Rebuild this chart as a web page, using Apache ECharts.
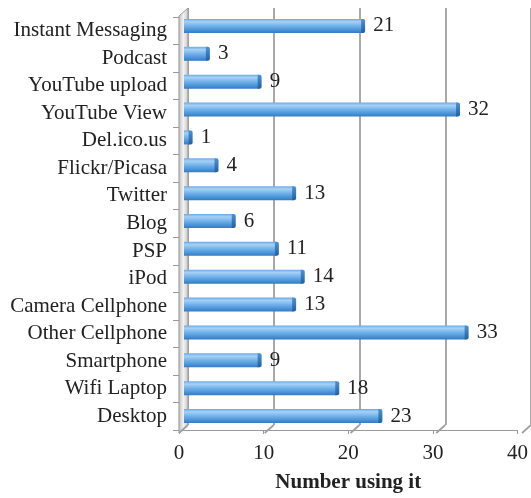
<!DOCTYPE html>
<html>
<head>
<meta charset="utf-8">
<script src="https://cdn.jsdelivr.net/npm/echarts@6/dist/echarts.min.js"></script>
<style>
  html, body { margin: 0; padding: 0; background: #fff; }
  #chart { width: 531px; height: 498px; }
</style>
</head>
<body>
<div id="chart"></div>
<script>
// data
var categories = ['Instant Messaging', 'Podcast', 'YouTube upload', 'YouTube View', 'Del.ico.us',
  'Flickr/Picasa', 'Twitter', 'Blog', 'PSP', 'iPod', 'Camera Cellphone', 'Other Cellphone',
  'Smartphone', 'Wifi Laptop', 'Desktop'];
var values = [21, 3, 9, 32, 1, 4, 13, 6, 11, 14, 13, 33, 9, 18, 23];
var valueTicks = [0, 10, 20, 30, 40];
var axisTitle = 'Number using it';

var serif = '"Liberation Serif", "DejaVu Serif", serif';
var depthX = -9, depthY = 8;   // offset from back wall to front edge

var chart = echarts.init(document.getElementById('chart'));

// 3d-ish bars
function renderBar(params, api) {
  var idx = api.value(0);
  var v = api.value(1);
  var p0 = api.coord([0, idx]);
  var p1 = api.coord([v, idx]);
  var h = 14;
  var y = p0[1] - h / 2;
  var body = {
    type: 'rect',
    shape: { x: p0[0], y: y, width: Math.max(p1[0] - p0[0] - 3, 1), height: h },
    style: {
      fill: new echarts.graphic.LinearGradient(0, 0, 0, 1, [
        { offset: 0, color: '#6aaae6' },
        { offset: 0.2, color: '#a6d1f5' },
        { offset: 0.45, color: '#7ab7ec' },
        { offset: 0.75, color: '#4e98dc' },
        { offset: 1, color: '#3579c2' }
      ])
    }
  };
  var cap = {
    type: 'rect',
    shape: { x: p1[0] - 4, y: y, width: 4, height: h, r: [0, 2, 2, 0] },
    style: {
      fill: new echarts.graphic.LinearGradient(0, 0, 0, 1, [
        { offset: 0, color: '#4d92d6' },
        { offset: 1, color: '#24609f' }
      ])
    }
  };
  var label = {
    type: 'text',
    style: {
      x: p1[0] + 8, y: p0[1], text: String(v),
      font: '21px ' + serif, fill: '#222',
      verticalAlign: 'middle', align: 'left'
    }
  };
  return { type: 'group', children: [body, cap, label] };
}

// left side wall
function renderWall(params, api) {
  var b = api.coord([0, 0]);
  var t = api.coord([0, 1]);
  return {
    type: 'polygon',
    shape: { points: [t, b, [b[0] + depthX, b[1] + depthY], [t[0] + depthX, t[1] + depthY]] },
    style: {
      fill: new echarts.graphic.LinearGradient(0, 0, 1, 0, [
        { offset: 0, color: '#bdbdbd' },
        { offset: 0.5, color: '#f2f2f2' },
        { offset: 1, color: '#c4c4c4' }
      ]),
      stroke: '#9a9a9a', lineWidth: 1
    }
  };
}

// floor diagonals at each tick
function renderFloor(params, api) {
  var p = api.coord([api.value(0), 0]);
  return {
    type: 'line',
    shape: { x1: p[0], y1: p[1], x2: p[0] + depthX, y2: p[1] + depthY },
    style: { stroke: '#a0a0a0', lineWidth: 1.8 }
  };
}

var option = {
  animation: false,
  grid: [
    { left: 188, top: 8, width: 344, height: 417 },   // back wall
    { left: 184, top: 12, width: 345, height: 418 },  // bars
    { left: 179, top: 17, width: 344, height: 416 }   // front axes
  ],
  xAxis: [
    {
      gridIndex: 0, type: 'value', min: 0, max: 40, interval: 10,
      axisLine: { show: false }, axisTick: { show: false }, axisLabel: { show: false },
      splitLine: { show: true, lineStyle: { color: '#a0a0a0', width: 1.8 } }
    },
    {
      gridIndex: 1, type: 'value', min: 0, max: 40, show: false
    },
    {
      gridIndex: 2, type: 'value', min: 0, max: 40, interval: 10,
      axisLine: { show: true, lineStyle: { color: '#9a9a9a', width: 1.2 } },
      axisTick: { show: true, length: 4, lineStyle: { color: '#9a9a9a' } },
      axisLabel: { fontFamily: serif, fontSize: 21, color: '#222', margin: 13 },
      splitLine: { show: false },
      name: axisTitle, nameLocation: 'middle', nameGap: 42,
      nameTextStyle: { fontFamily: serif, fontSize: 21, fontWeight: 'bold', color: '#222' }
    }
  ],
  yAxis: [
    {
      gridIndex: 0, type: 'value', min: 0, max: 1, show: false
    },
    {
      gridIndex: 1, type: 'category', data: categories, inverse: true, show: false
    },
    {
      gridIndex: 2, type: 'category', data: categories, inverse: true,
      axisLine: { show: true, lineStyle: { color: '#9a9a9a', width: 1.2 } },
      axisTick: { show: true, length: 6, interval: 0, lineStyle: { color: '#9a9a9a' } },
      axisLabel: { fontFamily: serif, fontSize: 21, color: '#222', margin: 12, interval: 0 }
    }
  ],
  series: [
    {
      type: 'custom', xAxisIndex: 0, yAxisIndex: 0, z: 1,
      data: [[0]], renderItem: renderWall
    },
    {
      type: 'custom', xAxisIndex: 0, yAxisIndex: 0, z: 1,
      data: valueTicks.map(function (v) { return [v]; }), renderItem: renderFloor
    },
    {
      type: 'custom', xAxisIndex: 1, yAxisIndex: 1, z: 3,
      data: values.map(function (v, i) { return [i, v]; }),
      encode: { x: 1, y: 0 },
      renderItem: renderBar
    }
  ]
};

chart.setOption(option);
</script>
</body>
</html>
